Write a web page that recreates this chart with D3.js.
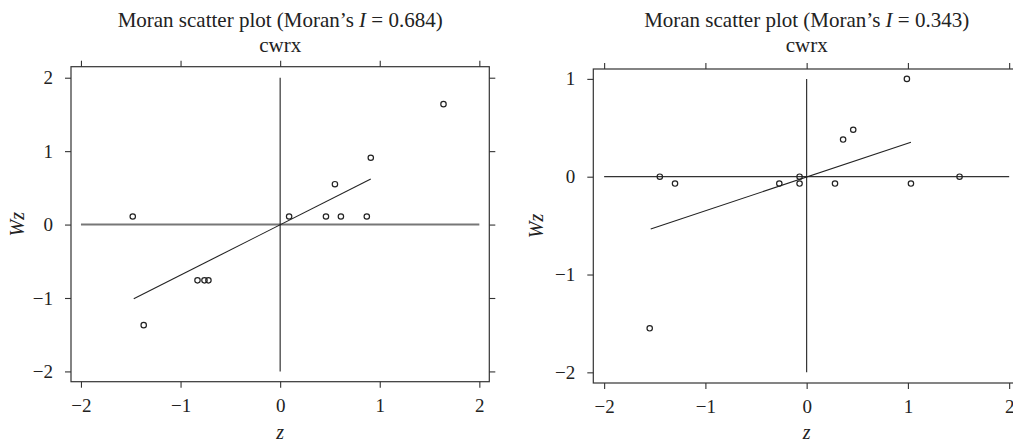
<!DOCTYPE html>
<html>
<head>
<meta charset="utf-8">
<script src="https://cdn.jsdelivr.net/npm/d3@7"></script>
<style>
  html, body { margin: 0; padding: 0; background: #fff; }
  svg { display: block; }
  text { font-family: "Liberation Serif", "DejaVu Serif", serif; fill: #222; }
</style>
</head>
<body>
<svg id="chart" width="1013" height="442"></svg>
<script>
// ---- Data ----
const xTicks = [-2, -1, 0, 1, 2];
const leftYTicks = [-2, -1, 0, 1, 2];
const rightYTicks = [-2, -1, 0, 1];

const leftTitle = "0.684";
const leftSubtitle = "cwrx";
const leftZ  = [1.64, 0.91, 0.55, -1.48, 0.09, 0.46, 0.61, 0.87, -0.83, -0.76, -0.72, -1.37];
const leftWz = [1.64, 0.91, 0.55, 0.11, 0.11, 0.11, 0.11, 0.11, -0.76, -0.76, -0.76, -1.37];
const leftFitZ  = [-1.47, 0.91];
const leftFitWz = [-1.01, 0.62];
const leftVLine = [-2, 2];   // Wz extent of vertical reference line at z = 0
const leftHLine = [-2, 2];   // z extent of horizontal reference line at Wz = 0

const rightTitle = "0.343";
const rightSubtitle = "cwrx";
const rightZ  = [0.99, 0.46, 0.36, -1.45, -1.30, -0.27, -0.07, -0.07, 0.28, 1.03, 1.51, -1.55];
const rightWz = [1.00, 0.48, 0.38, 0.00, -0.07, -0.07, 0.00, -0.07, -0.07, -0.07, 0.00, -1.55];
const rightFitZ  = [-1.54, 1.03];
const rightFitWz = [-0.535, 0.352];
const rightVLine = [-2, 1];
const rightHLine = [-2, 2];

// ---- Layout ----
const svg = d3.select("#chart");
const SERIF = '"Liberation Serif", "DejaVu Serif", serif';

function panel(cfg) {
  const x = d3.scaleLinear().domain(cfg.xDomain).range([cfg.left, cfg.right]);
  const y = d3.scaleLinear().domain(cfg.yDomain).range([cfg.bottom, cfg.top]);
  const g = svg.append("g");
  const fmt = d3.format("d");
  const tickLen = 6;

  // Frame
  g.append("rect")
    .attr("x", cfg.left).attr("y", cfg.top)
    .attr("width", cfg.right - cfg.left).attr("height", cfg.bottom - cfg.top)
    .attr("fill", "none").attr("stroke", "#333").attr("stroke-width", 1.2);

  // Axes
  const axB = g.append("g").attr("transform", `translate(0,${cfg.bottom})`)
    .call(d3.axisBottom(x).tickValues(cfg.xTicks).tickFormat(fmt).tickSize(tickLen).tickPadding(11));
  const axT = g.append("g").attr("transform", `translate(0,${cfg.top})`)
    .call(d3.axisTop(x).tickValues(cfg.xTicks).tickSize(tickLen).tickFormat(""));
  const axL = g.append("g").attr("transform", `translate(${cfg.left},0)`)
    .call(d3.axisLeft(y).tickValues(cfg.yTicks).tickFormat(fmt).tickSize(tickLen).tickPadding(12));
  const axR = g.append("g").attr("transform", `translate(${cfg.right},0)`)
    .call(d3.axisRight(y).tickValues(cfg.yTicks).tickSize(tickLen).tickFormat(""));
  [axB, axT, axL, axR].forEach(a => {
    a.attr("font-family", SERIF).attr("font-size", 19);
    a.select(".domain").remove();
    a.selectAll(".tick line").attr("stroke", "#333").attr("stroke-width", 1.1);
    a.selectAll(".tick text").attr("fill", "#222");
  });

  // Reference lines
  g.append("line")
    .attr("x1", x(cfg.hLine[0])).attr("x2", x(cfg.hLine[1]))
    .attr("y1", y(0)).attr("y2", y(0))
    .attr("stroke", cfg.hColor).attr("stroke-width", cfg.hWidth);
  g.append("line")
    .attr("x1", x(0)).attr("x2", x(0))
    .attr("y1", y(cfg.vLine[0])).attr("y2", y(cfg.vLine[1]))
    .attr("stroke", "#222").attr("stroke-width", 1.1);

  // Fit line
  g.append("line")
    .attr("x1", x(cfg.fitZ[0])).attr("y1", y(cfg.fitWz[0]))
    .attr("x2", x(cfg.fitZ[1])).attr("y2", y(cfg.fitWz[1]))
    .attr("stroke", "#222").attr("stroke-width", 1.1);

  // Points
  g.selectAll("circle.pt").data(cfg.z.map((d, i) => [d, cfg.wz[i]]))
    .join("circle").attr("class", "pt")
    .attr("cx", d => x(d[0])).attr("cy", d => y(d[1]))
    .attr("r", 2.7)
    .attr("fill", "none").attr("stroke", "#222").attr("stroke-width", 1.2);

  // Titles
  const cx = x(0);
  const t = g.append("text").attr("x", cx).attr("y", 27).attr("text-anchor", "middle")
    .style("font-size", "21px");
  t.append("tspan").text("Moran scatter plot (Moran\u2019s ");
  t.append("tspan").style("font-style", "italic").text("I");
  t.append("tspan").text(" = " + cfg.title + ")");
  g.append("text").attr("x", cx).attr("y", 52).attr("text-anchor", "middle")
    .style("font-size", "21px").text(cfg.subtitle);

  // Axis titles
  g.append("text").attr("x", cx).attr("y", 439).attr("text-anchor", "middle")
    .style("font-size", "20px").style("font-style", "italic").text("z");
  const ymid = (cfg.top + cfg.bottom) / 2;
  g.append("text")
    .attr("transform", `translate(${cfg.yLabelX},${ymid}) rotate(-90)`)
    .attr("text-anchor", "middle")
    .style("font-size", "20px").style("font-style", "italic").text("Wz");
}

panel({
  left: 71, right: 489.3, top: 66.7, bottom: 381.7,
  xDomain: [-2.1, 2.1], yDomain: [-2.14, 2.15],
  xTicks: xTicks, yTicks: leftYTicks,
  z: leftZ, wz: leftWz, fitZ: leftFitZ, fitWz: leftFitWz,
  vLine: leftVLine, hLine: leftHLine, hColor: "#777", hWidth: 2,
  title: leftTitle, subtitle: leftSubtitle, yLabelX: 24
});

panel({
  left: 593.3, right: 1020, top: 69, bottom: 383,
  xDomain: [-2.107, 2.107], yDomain: [-2.109, 1.101],
  xTicks: xTicks, yTicks: rightYTicks,
  z: rightZ, wz: rightWz, fitZ: rightFitZ, fitWz: rightFitWz,
  vLine: rightVLine, hLine: rightHLine, hColor: "#333", hWidth: 1.3,
  title: rightTitle, subtitle: rightSubtitle, yLabelX: 543
});
</script>
</body>
</html>
